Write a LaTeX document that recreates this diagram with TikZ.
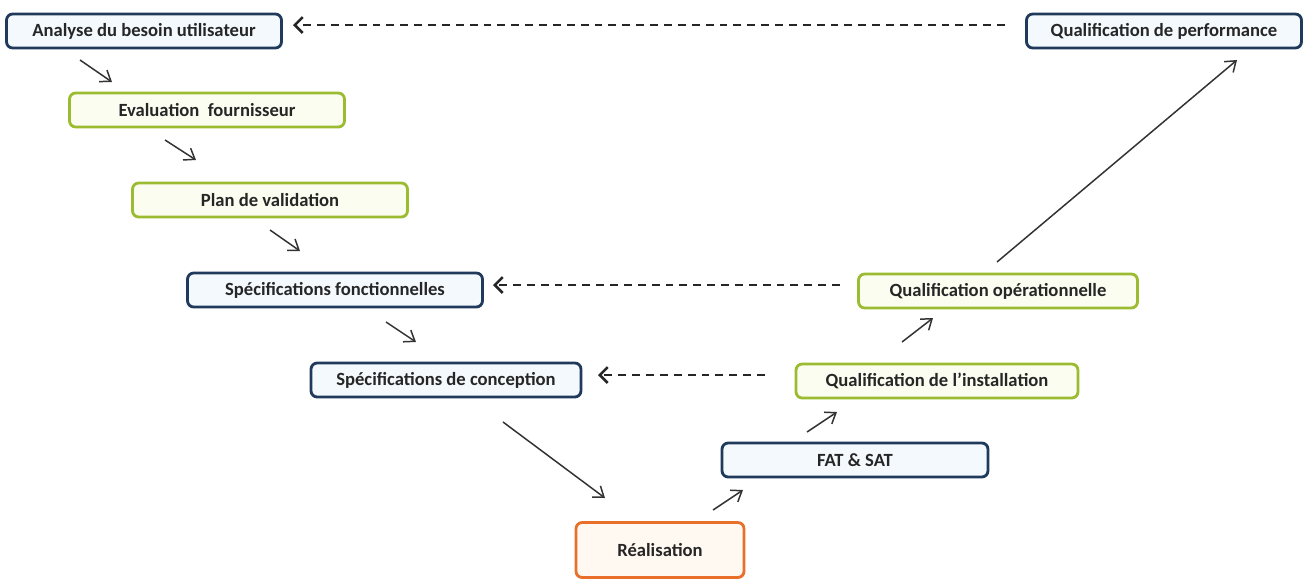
\documentclass[tikz,border=0pt]{standalone}
\usepackage{fontspec}
\setmainfont{Carlito}
\usetikzlibrary{calc,arrows.meta}
\definecolor{bordbleu}{HTML}{1F3A5A}
\definecolor{bordvert}{HTML}{9BBB30}
\definecolor{bordorange}{HTML}{E8702A}
\definecolor{fondbleu}{HTML}{F4F9FD}
\definecolor{fondvert}{HTML}{FBFDF0}
\definecolor{fondorange}{HTML}{FFF9F2}
\definecolor{texte}{HTML}{262626}
\begin{document}
\begin{tikzpicture}[x=0.02cm,y=-0.02cm,
        etape/.style={draw,rounded corners=3.5pt,line width=1.6pt,inner sep=0pt,
            font=\fontsize{10.6}{12}\selectfont\bfseries,text=texte,
            minimum height=0.68cm},
        bleu/.style={etape,draw=bordbleu,fill=fondbleu},
        vert/.style={etape,draw=bordvert,fill=fondvert},
        orange/.style={etape,draw=bordorange,fill=fondorange},
        fleche/.style={-{Straight Barb[length=5.5pt,width=8pt]},line width=0.85pt,draw=black!80},
        retour/.style={-{Straight Barb[length=4.5pt,width=9pt,line width=1.5pt]},line width=1.4pt,
            dash pattern=on 4.5pt off 3.4pt,draw=black!85}]
    \useasboundingbox (0,0) rectangle (1307,579);
    % descente du V
    \node[bleu,minimum width=5.5cm] (an) at (144,31) {Analyse du besoin utilisateur};
    \node[vert,minimum width=5.5cm] (ev) at (207,110) {Evaluation~~fournisseur};
    \node[vert,minimum width=5.5cm] (pv) at (270,200) {Plan de validation};
    \node[bleu,minimum width=5.9cm] (sf) at (335,290) {Spécifications fonctionnelles};
    \node[bleu,minimum width=5.4cm] (sc) at (446,380) {Spécifications de conception};
    % pointe
    \node[orange,minimum width=3.36cm,minimum height=1.1cm] (re) at (660,550) {Réalisation};
    % remontée
    \node[bleu,minimum width=5.32cm] (fs) at (855,460) {FAT \& SAT};
    \node[vert,minimum width=5.64cm] (qi) at (937,381) {Qualification de l’installation};
    \node[vert,minimum width=5.58cm] (qo) at (998,291) {Qualification opérationnelle};
    \node[bleu,minimum width=5.5cm] (qp) at (1164,31) {Qualification de performance};

    \draw[fleche] ($(an)+(-64,29)$) -- ($(ev)+(-95,-28)$);
    \draw[fleche] ($(ev)+(-42,30)$) -- ($(pv)+(-74,-40)$);
    \draw[fleche] ($(pv)+(0,30)$) -- ($(sf)+(-35,-39)$);
    \draw[fleche] ($(sf)+(51,32)$) -- ($(sc)+(-30,-38)$);
    \draw[fleche] ($(sc)+(57,42)$) -- ($(re)+(-55,-52)$);
    \draw[fleche] ($(re)+(53,-40)$) -- ($(fs)+(-112,30)$);
    \draw[fleche] ($(fs)+(-48,-28)$) -- ($(qi)+(-100,31)$);
    \draw[fleche] ($(qi)+(-35,-39)$) -- ($(qo)+(-65,27)$);
    \draw[fleche] ($(qo)+(-1,-29)$) -- ($(qp)+(73,29)$);

    \draw[retour] ($(qp)+(-159,-6)$) -- ($(an)+(149,-6)$);
    \draw[retour] ($(qo)+(-158,-6)$) -- ($(sf)+(158,-5)$);
    \draw[retour] ($(qi)+(-172,-6)$) -- ($(sc)+(152,-5)$);
\end{tikzpicture}
\end{document}
